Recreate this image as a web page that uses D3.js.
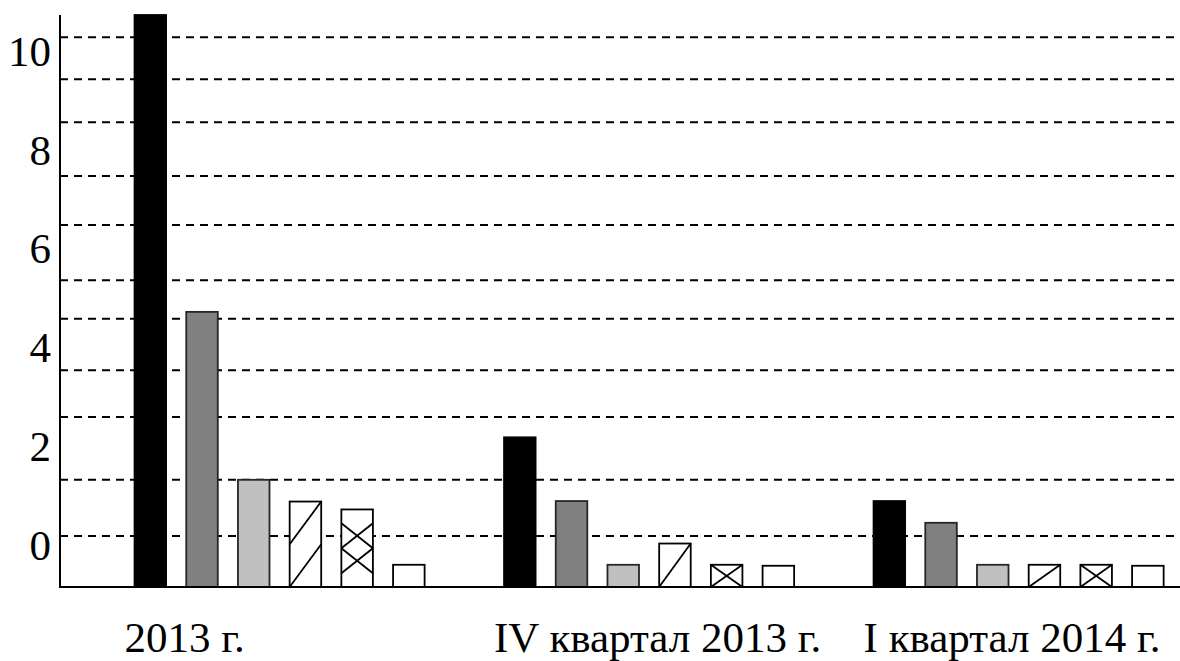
<!DOCTYPE html>
<html>
<head>
<meta charset="utf-8">
<script src="https://cdn.jsdelivr.net/npm/d3@7/dist/d3.min.js"></script>
<style>
  html, body { margin: 0; padding: 0; background: #fff; }
  svg { display: block; font-family: "Liberation Serif", "Times New Roman", serif; }
</style>
</head>
<body>
<svg id="chart" width="1180" height="661"></svg>
<script>
// categories and series (y is in axis units)
const groups = ["2013 г.", "IV квартал 2013 г.", "I квартал 2014 г."]
const seriesBlack = [10.75, 2.20, 0.91]
const seriesDark = [4.74, 0.91, 0.47]
const seriesLight = [1.34, -0.38, -0.38]
const seriesDiag = [0.90, 0.05, -0.38]
const seriesCross = [0.74, -0.38, -0.38]
const seriesWhite = [-0.38, -0.40, -0.40]
const tickValues = [0, 2, 4, 6, 8, 10]
const gridValues = [0.20, 1.34, 2.61, 3.56, 4.60, 5.38, 6.50, 7.49, 8.58, 9.45, 10.30]
const yMin = -0.83
const yMax = 10.75

const series = [
  { values: seriesBlack, fill: "#000000", stroke: "#000000", hatch: null },
  { values: seriesDark, fill: "#808080", stroke: "#262626", hatch: null },
  { values: seriesLight, fill: "#c0c0c0", stroke: "#262626", hatch: null },
  { values: seriesDiag, fill: "#ffffff", stroke: "#000000", hatch: "diag" },
  { values: seriesCross, fill: "#ffffff", stroke: "#000000", hatch: "cross" },
  { values: seriesWhite, fill: "#ffffff", stroke: "#000000", hatch: null }
]

const chartWidth = 1180
const axisX = 60
const plotTop = 15
const plotBottom = 587
const fontSize = 43

const svg = d3.select("#chart")

const y = d3.scaleLinear().domain([yMin, yMax]).range([plotBottom, plotTop])

const x0 = d3.scaleBand()
  .domain(groups)
  .range([axisX, chartWidth])
  .paddingInner(0.215)
  .paddingOuter(0.123)
  .align(0.82)

const x1 = d3.scaleBand()
  .domain(d3.range(series.length))
  .range([0, x0.bandwidth()])
  .paddingInner(0.39)

// dashed gridlines
svg.append("g")
  .selectAll("line")
  .data(gridValues)
  .join("line")
  .attr("x1", axisX)
  .attr("x2", chartWidth)
  .attr("y1", d => y(d))
  .attr("y2", d => y(d))
  .attr("stroke", "#000")
  .attr("stroke-width", 2)
  .attr("stroke-dasharray", "8,6")

// bars
const bars = []
groups.forEach((g, gi) => {
  series.forEach((s, si) => {
    bars.push({ group: g, si, value: s.values[gi], style: s })
  })
})

const barG = svg.append("g")
  .selectAll("g")
  .data(bars)
  .join("g")

barG.each(function(d) {
  const el = d3.select(this)
  const bx = x0(d.group) + x1(d.si)
  const bw = x1.bandwidth()
  const by = y(d.value)
  const bh = y(yMin) - by

  el.append("rect")
    .attr("x", bx).attr("y", by)
    .attr("width", bw).attr("height", bh)
    .attr("fill", d.style.fill)

  if (d.style.hatch === "diag") {
    const n = Math.max(1, Math.round(bh / 43))
    const ch = bh / n
    for (let k = 0; k < n; k++) {
      el.append("line")
        .attr("x1", bx).attr("y1", by + (k + 1) * ch)
        .attr("x2", bx + bw).attr("y2", by + k * ch)
        .attr("stroke", "#000").attr("stroke-width", 1.8)
    }
  } else if (d.style.hatch === "cross") {
    const n = Math.max(1, Math.floor(bh / 30))
    const ch = Math.min(bh / n, 25)
    const start = by + (bh - n * ch) / 2
    for (let k = 0; k < n; k++) {
      const t = start + k * ch
      el.append("line")
        .attr("x1", bx).attr("y1", t).attr("x2", bx + bw).attr("y2", t + ch)
        .attr("stroke", "#000").attr("stroke-width", 1.8)
      el.append("line")
        .attr("x1", bx).attr("y1", t + ch).attr("x2", bx + bw).attr("y2", t)
        .attr("stroke", "#000").attr("stroke-width", 1.8)
    }
  }

  el.append("rect")
    .attr("x", bx).attr("y", by)
    .attr("width", bw).attr("height", bh)
    .attr("fill", "none")
    .attr("stroke", d.style.stroke)
    .attr("stroke-width", 1.8)
})

// axes lines
svg.append("line")
  .attr("x1", axisX).attr("x2", axisX)
  .attr("y1", y(yMax)).attr("y2", y(yMin))
  .attr("stroke", "#000").attr("stroke-width", 2)

svg.append("line")
  .attr("x1", axisX - 1).attr("x2", chartWidth)
  .attr("y1", y(yMin)).attr("y2", y(yMin))
  .attr("stroke", "#000").attr("stroke-width", 2)

// y tick labels
const yAxis = svg.append("g")
  .attr("transform", `translate(${axisX},0)`)
  .call(d3.axisLeft(y).tickValues(tickValues).tickSize(0).tickPadding(9).tickFormat(d3.format("d")))

yAxis.select(".domain").remove()
yAxis.selectAll("text")
  .attr("font-family", "Liberation Serif, Times New Roman, serif")
  .attr("font-size", fontSize)
  .attr("fill", "#000")
  .attr("dy", "0.31em")

// category labels
svg.append("g")
  .selectAll("text")
  .data(groups)
  .join("text")
  .attr("x", d => x0(d) - 10)
  .attr("y", 652)
  .attr("font-size", fontSize)
  .attr("fill", "#000")
  .text(d => d)
</script>
</body>
</html>
